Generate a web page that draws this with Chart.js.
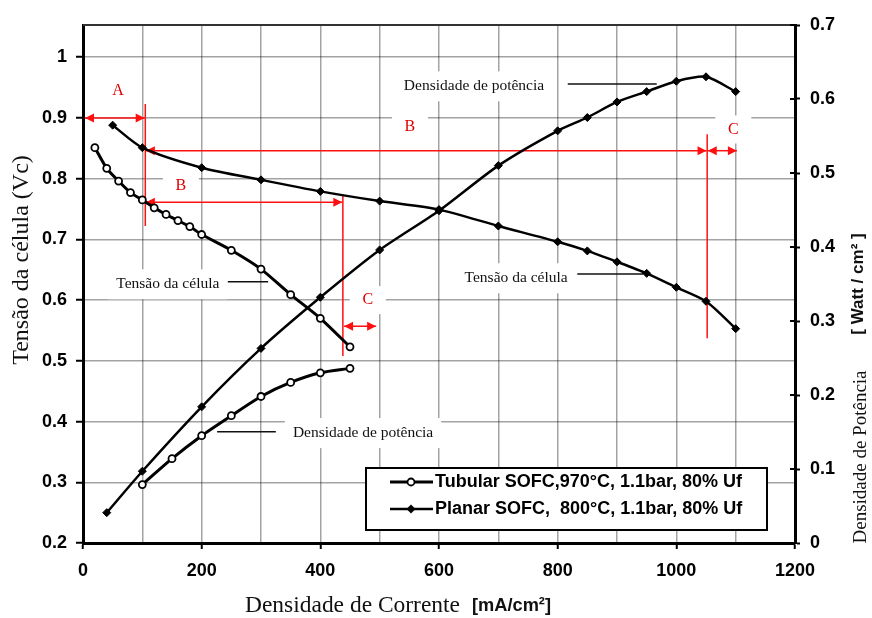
<!DOCTYPE html>
<html>
<head>
<meta charset="utf-8">
<script src="https://cdn.jsdelivr.net/npm/chart.js@4.4.0/dist/chart.umd.min.js"></script>
<style>
  body { margin: 0; background: #fff; }
  canvas { display: block; }
</style>
</head>
<body>
<canvas id="sofcChart" width="872" height="618"></canvas>
<script>
// dados
const tubularX = [20, 40, 60, 80, 100, 120, 140, 160, 180, 200, 250, 300, 350, 400, 450];
const tubularVolt = [0.851, 0.817, 0.796, 0.777, 0.765, 0.752, 0.741, 0.731, 0.721, 0.708, 0.682, 0.651, 0.609, 0.570, 0.523];
const tubularPowerX = [100, 150, 200, 250, 300, 350, 400, 450];
const tubularPower = [0.079, 0.114, 0.145, 0.172, 0.198, 0.217, 0.230, 0.236];
const planarX = [50, 100, 200, 300, 400, 500, 600, 700, 800, 850, 900, 950, 1000, 1050, 1100];
const planarVolt = [0.888, 0.851, 0.818, 0.798, 0.779, 0.763, 0.749, 0.722, 0.696, 0.681, 0.663, 0.644, 0.621, 0.598, 0.553];
const planarPowerX = [40, 100, 200, 300, 400, 500, 600, 700, 800, 850, 900, 950, 1000, 1050, 1100];
const planarPower = [0.041, 0.097, 0.184, 0.263, 0.332, 0.396, 0.449, 0.510, 0.557, 0.575, 0.596, 0.610, 0.624, 0.630, 0.610];

const legendLabels = ['Tubular SOFC,970°C, 1.1bar, 80% Uf', 'Planar SOFC,  800°C, 1.1bar, 80% Uf'];

// anotações (coordenadas no eixo x e no eixo esquerdo)
const noteTexts = ['Densidade de potência', 'Tensão da célula', 'Tensão da célula', 'Densidade de potência'];
const notePos = [[659, 0.952], [143, 0.626], [730, 0.636], [472, 0.381]];
const noteLeader = [[817, 967, 0.956], [244, 312, 0.630], [833, 944, 0.643], [226, 325, 0.383]];
const redTexts = ['A', 'B', 'C', 'B', 'C'];
const redPos = [[59, 0.944], [551, 0.886], [1096, 0.881], [165, 0.789], [480, 0.600]];

const SERIF = "'Liberation Serif', 'Times New Roman', serif";
const SANS = "'Liberation Sans', Arial, sans-serif";

function pts(xs, ys) {
    return xs.map((v, i) => ({ x: v, y: ys[i] }));
}

function arrowHead(ctx, x, y, dir) {
    ctx.beginPath();
    ctx.moveTo(x, y);
    ctx.lineTo(x - dir * 9, y - 4.5);
    ctx.lineTo(x - dir * 9, y + 4.5);
    ctx.closePath();
    ctx.fill();
}

function hArrow(ctx, x1, x2, y, startHead, endHead) {
    ctx.beginPath();
    ctx.moveTo(x1, y);
    ctx.lineTo(x2, y);
    ctx.stroke();
    if (startHead) arrowHead(ctx, x1, y, -1);
    if (endHead) arrowHead(ctx, x2, y, 1);
}

function vLine(ctx, x, y1, y2) {
    ctx.beginPath();
    ctx.moveTo(x, y1);
    ctx.lineTo(x, y2);
    ctx.stroke();
}

function vText(ctx, text, cx, cy, font, maxW) {
    ctx.save();
    ctx.translate(cx, cy);
    ctx.rotate(-Math.PI / 2);
    ctx.font = font;
    ctx.textAlign = 'center';
    ctx.textBaseline = 'middle';
    ctx.fillText(text, 0, 0, maxW);
    ctx.restore();
}

const annotPlugin = {
    id: 'annot',
    beforeDatasetsDraw(chart) {
        const ctx = chart.ctx;
        const X = v => chart.scales.x.getPixelForValue(v);
        const Y = v => chart.scales.y.getPixelForValue(v);
        ctx.save();

        // textos pretos com fundo branco
        ctx.font = '15.5px ' + SERIF;
        ctx.textAlign = 'center';
        ctx.textBaseline = 'middle';
        noteTexts.forEach((t, i) => {
            const cx = X(notePos[i][0]), cy = Y(notePos[i][1]);
            const w = ctx.measureText(t).width;
            ctx.fillStyle = '#fff';
            ctx.fillRect(cx - w / 2 - 8, cy - 15, w + 16, 30);
            ctx.fillStyle = '#111';
            ctx.fillText(t, cx, cy);
        });
        ctx.strokeStyle = '#111';
        ctx.lineWidth = 1.5;
        noteLeader.forEach(l => {
            ctx.beginPath();
            ctx.moveTo(X(l[0]), Y(l[2]));
            ctx.lineTo(X(l[1]), Y(l[2]));
            ctx.stroke();
        });

        // letras vermelhas
        ctx.font = '16px ' + SERIF;
        redTexts.forEach((t, i) => {
            const cx = X(redPos[i][0]), cy = Y(redPos[i][1]);
            ctx.fillStyle = '#fff';
            ctx.fillRect(cx - 18, cy - 14, 36, 28);
            ctx.fillStyle = '#e00000';
            ctx.fillText(t, cx, cy);
        });

        // setas vermelhas
        ctx.strokeStyle = '#ff1010';
        ctx.fillStyle = '#ff1010';
        ctx.lineWidth = 1.5;
        hArrow(ctx, X(0) + 2, X(104), Y(0.9), true, true);
        vLine(ctx, X(105), Y(0.923), Y(0.722));
        hArrow(ctx, X(106), X(1051), Y(0.846), true, true);
        vLine(ctx, X(1052), Y(0.873), Y(0.537));
        hArrow(ctx, X(1053), X(1102), Y(0.846), true, true);
        hArrow(ctx, X(106), X(437), Y(0.761), true, true);
        vLine(ctx, X(438), Y(0.774), Y(0.508));
        hArrow(ctx, X(440), X(494), Y(0.557), true, true);
        ctx.restore();
    },
    afterDraw(chart) {
        const ctx = chart.ctx;
        const area = chart.chartArea;
        ctx.save();

        // moldura superior
        ctx.strokeStyle = '#333';
        ctx.lineWidth = 2;
        ctx.beginPath();
        ctx.moveTo(area.left, area.top);
        ctx.lineTo(area.right, area.top);
        ctx.stroke();

        // marcas do eixo direito atravessando a linha
        ctx.strokeStyle = '#000';
        ctx.lineWidth = 2;
        chart.scales.y1.ticks.forEach(t => {
            const py = chart.scales.y1.getPixelForValue(t.value);
            ctx.beginPath();
            ctx.moveTo(area.right - 5, py);
            ctx.lineTo(area.right, py);
            ctx.stroke();
        });

        // títulos dos eixos
        ctx.fillStyle = '#111';
        vText(ctx, 'Tensão da célula (Vc)', 22, 260, '24px ' + SERIF, 220);
        vText(ctx, '[ Watt / cm² ]', 858, 284, 'bold 17px ' + SANS, 118);
        vText(ctx, 'Densidade de Potência', 861, 457, '19px ' + SERIF, 180);
        ctx.textBaseline = 'middle';
        ctx.textAlign = 'left';
        ctx.font = '24px ' + SERIF;
        ctx.fillText('Densidade de Corrente', 245, 606, 215);
        ctx.font = 'bold 19px ' + SANS;
        ctx.fillText('[mA/cm²]', 472, 606, 79);

        // legenda
        ctx.fillStyle = '#fff';
        ctx.fillRect(366, 468, 401, 62);
        ctx.strokeStyle = '#000';
        ctx.lineWidth = 2;
        ctx.strokeRect(366, 468, 401, 62);
        const rows = [482, 509];
        rows.forEach((ry, i) => {
            ctx.strokeStyle = '#000';
            ctx.lineWidth = i === 0 ? 3 : 2.5;
            ctx.beginPath();
            ctx.moveTo(390, ry);
            ctx.lineTo(433, ry);
            ctx.stroke();
            if (i === 0) {
                ctx.beginPath();
                ctx.arc(411, ry, 3.5, 0, Math.PI * 2);
                ctx.fillStyle = '#fff';
                ctx.fill();
                ctx.lineWidth = 1.8;
                ctx.stroke();
            } else {
                ctx.fillStyle = '#000';
                ctx.beginPath();
                ctx.moveTo(411, ry - 4.5);
                ctx.lineTo(415.5, ry);
                ctx.lineTo(411, ry + 4.5);
                ctx.lineTo(406.5, ry);
                ctx.closePath();
                ctx.fill();
            }
            ctx.fillStyle = '#000';
            ctx.font = 'bold 18px ' + SANS;
            ctx.textAlign = 'left';
            ctx.textBaseline = 'middle';
            ctx.fillText(legendLabels[i], 435, ry, 311);
        });
        ctx.restore();
    }
};

const gridGray = 'rgba(0,0,0,0.36)';
const tickFont = { family: SANS, size: 18, weight: 'bold' };

const ctx = document.getElementById('sofcChart').getContext('2d');
const sofcChart = new Chart(ctx, {
    type: 'line',
    data: {
        datasets: [
            {
                label: 'Tubular tensão',
                data: pts(tubularX, tubularVolt),
                yAxisID: 'y',
                borderColor: '#000',
                borderWidth: 3,
                tension: 0.25,
                pointStyle: 'circle',
                pointRadius: 3.5,
                pointBackgroundColor: '#fff',
                pointBorderColor: '#000',
                pointBorderWidth: 1.8
            },
            {
                label: 'Tubular potência',
                data: pts(tubularPowerX, tubularPower),
                yAxisID: 'y1',
                borderColor: '#000',
                borderWidth: 3,
                tension: 0.25,
                pointStyle: 'circle',
                pointRadius: 3.5,
                pointBackgroundColor: '#fff',
                pointBorderColor: '#000',
                pointBorderWidth: 1.8
            },
            {
                label: 'Planar tensão',
                data: pts(planarX, planarVolt),
                yAxisID: 'y',
                borderColor: '#000',
                borderWidth: 2.5,
                tension: 0.25,
                pointStyle: 'rectRot',
                pointRadius: 4,
                pointBackgroundColor: '#000',
                pointBorderColor: '#000',
                pointBorderWidth: 1
            },
            {
                label: 'Planar potência',
                data: pts(planarPowerX, planarPower),
                yAxisID: 'y1',
                borderColor: '#000',
                borderWidth: 2.5,
                tension: 0.25,
                pointStyle: 'rectRot',
                pointRadius: 4,
                pointBackgroundColor: '#000',
                pointBorderColor: '#000',
                pointBorderWidth: 1
            }
        ]
    },
    options: {
        responsive: false,
        animation: false,
        layout: { padding: { top: 25 } },
        plugins: {
            legend: { display: false },
            tooltip: { enabled: false }
        },
        scales: {
            x: {
                type: 'linear',
                min: 0,
                max: 1200,
                afterFit: s => { s.height = 75; },
                ticks: {
                    stepSize: 100,
                    autoSkip: false,
                    maxRotation: 0,
                    padding: 11,
                    color: '#000',
                    font: tickFont,
                    callback: v => (v % 200 === 0 ? String(v) : '')
                },
                grid: {
                    color: gridGray,
                    lineWidth: 1.5,
                    tickLength: 6,
                    tickColor: c => (c.tick && c.tick.value % 200 === 0 ? '#000' : 'rgba(0,0,0,0)'),
                    tickWidth: 2
                },
                border: { color: '#000', width: 3 }
            },
            y: {
                position: 'left',
                min: 0.2,
                max: 1.053,
                afterFit: s => { s.width = 83; },
                afterBuildTicks: s => {
                    s.ticks = s.ticks.filter(t => t.value <= 1.0001 && Math.abs(t.value * 10 - Math.round(t.value * 10)) < 1e-6);
                },
                ticks: {
                    stepSize: 0.1,
                    padding: 9,
                    color: '#000',
                    font: tickFont,
                    callback: v => String(Math.round(v * 10) / 10)
                },
                grid: {
                    color: gridGray,
                    lineWidth: 1.5,
                    tickLength: 7,
                    tickColor: '#000',
                    tickWidth: 2
                },
                border: { color: '#000', width: 3 }
            },
            y1: {
                position: 'right',
                min: 0,
                max: 0.7,
                afterFit: s => { s.width = 77; },
                ticks: {
                    stepSize: 0.1,
                    padding: 10,
                    color: '#000',
                    font: tickFont,
                    callback: v => String(Math.round(v * 10) / 10)
                },
                grid: {
                    drawOnChartArea: false,
                    tickLength: 5,
                    tickColor: '#000',
                    tickWidth: 2
                },
                border: { color: '#000', width: 3 }
            }
        }
    },
    plugins: [annotPlugin]
});
</script>
</body>
</html>
